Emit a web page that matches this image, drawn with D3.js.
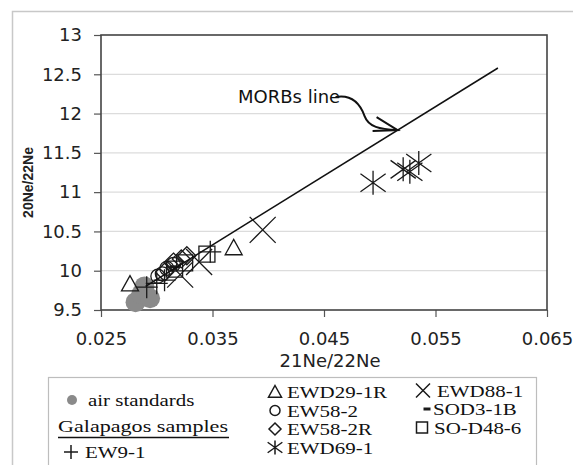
<!DOCTYPE html>
<html>
<head>
<meta charset="utf-8">
<script src="https://cdn.jsdelivr.net/npm/d3@7"></script>
<style>
  body { margin: 0; background: #fff; }
  svg { display: block; }
</style>
</head>
<body>
<div id="chart"></div>
<script>
// axis ticks
const xTicks = [0.025, 0.035, 0.045, 0.055, 0.065];
const yTicks = [9.5, 10, 10.5, 11, 11.5, 12, 12.5, 13];

// series values [21Ne/22Ne, 20Ne/22Ne]
const airStandards = [[0.0281, 9.60], [0.0286, 9.70], [0.0289, 9.80], [0.0294, 9.65]];
const ew9_1 = [[0.0291, 9.79], [0.0300, 9.84], [0.0307, 9.88], [0.0348, 10.24]];
const ewd29_1R = [[0.0276, 9.83], [0.0369, 10.29]];
const ew58_2 = [[0.0301, 9.93], [0.0305, 9.96], [0.0309, 10.03], [0.0315, 10.08]];
const ew58_2R = [[0.0307, 9.98], [0.0315, 10.11], [0.0322, 10.15], [0.0327, 10.19]];
const ewd69_1 = [[0.0494, 11.12], [0.0521, 11.29], [0.0527, 11.26], [0.0535, 11.37]];
const ewd88_1 = [[0.0321, 9.95], [0.0338, 10.11], [0.0395, 10.52]];
const sod3_1B = [[0.0316, 10.05]];
const soD48_6 = [[0.0316, 10.02], [0.0325, 10.10], [0.0345, 10.21]];
const morbLine = [[0.029, 9.8], [0.0606, 12.58]];
const morbArrowTip = [0.0516, 11.79];

const series = [
  { name: "air standards", type: "dot", values: airStandards },
  { name: "EW9-1", type: "plus", values: ew9_1 },
  { name: "EWD29-1R", type: "triangle", values: ewd29_1R },
  { name: "EW58-2", type: "circle", values: ew58_2 },
  { name: "EW58-2R", type: "diamond", values: ew58_2R },
  { name: "EWD69-1", type: "star", values: ewd69_1 },
  { name: "EWD88-1", type: "x", values: ewd88_1 },
  { name: "SOD3-1B", type: "dash", values: sod3_1B },
  { name: "SO-D48-6", type: "square", values: soD48_6 }
];

const W = 573, H = 465;
const plotL = 101, plotR = 547, plotT = 35, plotB = 310;

const x = d3.scaleLinear().domain([0.025, 0.065]).range([plotL, plotR]);
const y = d3.scaleLinear().domain([9.5, 13]).range([plotB, plotT]);

const svg = d3.select("#chart").append("svg")
  .attr("width", W).attr("height", H);

// outer chart border
svg.append("rect")
  .attr("x", 12.5).attr("y", 11.5)
  .attr("width", 700).attr("height", 600)
  .attr("fill", "none").attr("stroke", "#c8c8c8").attr("stroke-width", 1.5);

// gridlines
svg.append("g").selectAll("line")
  .data(yTicks.slice(1, -1))
  .enter().append("line")
  .attr("x1", plotL).attr("x2", plotR)
  .attr("y1", d => y(d)).attr("y2", d => y(d))
  .attr("stroke", "#dcdcdc").attr("stroke-width", 1.2);

const tickFont = "'DejaVu Sans', sans-serif";

const yAxis = svg.append("g")
  .attr("transform", "translate(" + plotL + ",0)")
  .call(d3.axisLeft(y).tickValues(yTicks).tickSize(7).tickPadding(12).tickFormat(d => String(d)));
const xAxis = svg.append("g")
  .attr("transform", "translate(0," + plotB + ")")
  .call(d3.axisBottom(x).tickValues(xTicks).tickSize(7).tickPadding(15).tickFormat(d => String(d)));

[yAxis, xAxis].forEach(g => {
  g.select(".domain").remove();
  g.selectAll("line").attr("stroke", "#555").attr("stroke-width", 1.2);
  g.selectAll("text").attr("fill", "#222").style("font-family", tickFont).style("font-size", "18px");
});

// plot frame
svg.append("rect")
  .attr("x", plotL).attr("y", plotT)
  .attr("width", plotR - plotL).attr("height", plotB - plotT)
  .attr("fill", "none").attr("stroke", "#444").attr("stroke-width", 1.6);

// axis titles
svg.append("text")
  .attr("transform", "translate(33," + ((plotT + plotB) / 2 + 10) + ") rotate(-90)")
  .attr("text-anchor", "middle")
  .style("font-family", "'Liberation Sans', Arial, sans-serif")
  .style("font-weight", "bold").style("font-size", "14px")
  .attr("fill", "#222")
  .text("20Ne/22Ne");

svg.append("text")
  .attr("x", 330).attr("y", 367)
  .attr("text-anchor", "middle")
  .style("font-family", tickFont).style("font-size", "18px")
  .attr("fill", "#222")
  .text("21Ne/22Ne");

// marker shapes
function markerPath(type, s) {
  const p = d3.path();
  if (type === "plus") {
    p.moveTo(-s, 0); p.lineTo(s, 0);
    p.moveTo(0, -s); p.lineTo(0, s);
  } else if (type === "x") {
    p.moveTo(-s, -s); p.lineTo(s, s);
    p.moveTo(-s, s); p.lineTo(s, -s);
  } else if (type === "star") {
    p.moveTo(0, -s); p.lineTo(0, s);
    p.moveTo(-s * 1.05, -s * 0.75); p.lineTo(s * 1.05, s * 0.75);
    p.moveTo(-s * 1.05, s * 0.75); p.lineTo(s * 1.05, -s * 0.75);
  } else if (type === "triangle") {
    p.moveTo(0, -s); p.lineTo(s, s * 0.8); p.lineTo(-s, s * 0.8); p.closePath();
  } else if (type === "diamond") {
    p.moveTo(0, -s); p.lineTo(s, 0); p.lineTo(0, s); p.lineTo(-s, 0); p.closePath();
  } else if (type === "square") {
    p.rect(-s, -s, 2 * s, 2 * s);
  } else if (type === "circle" || type === "dot") {
    p.arc(0, 0, s, 0, 2 * Math.PI);
  } else if (type === "dash") {
    p.moveTo(-s, 0); p.lineTo(s, 0);
  }
  return p.toString();
}

const plotSize = { dot: 10, plus: 11, x: 13, star: 12, triangle: 8.5, diamond: 9, square: 8, circle: 7, dash: 5 };

function styleMarker(sel, type) {
  if (type === "dot") {
    sel.attr("fill", "#8a8a8a").attr("stroke", "none");
  } else {
    sel.attr("fill", "none").attr("stroke", "#1a1a1a")
      .attr("stroke-width", type === "dash" ? 3 : 1.3);
  }
}

// markers
series.forEach(s => {
  const sel = svg.append("g").selectAll("path")
    .data(s.values)
    .enter().append("path")
    .attr("transform", d => "translate(" + x(d[0]) + "," + y(d[1]) + ")")
    .attr("d", markerPath(s.type, plotSize[s.type]));
  styleMarker(sel, s.type);
});

// MORBs line
svg.append("path")
  .datum(morbLine)
  .attr("d", d3.line().x(d => x(d[0])).y(d => y(d[1])))
  .attr("fill", "none").attr("stroke", "#111").attr("stroke-width", 1.5);

// annotation
svg.append("text")
  .attr("x", 238).attr("y", 103)
  .style("font-family", tickFont).style("font-size", "18px")
  .attr("fill", "#111")
  .text("MORBs line");

const tx = x(morbArrowTip[0]), ty = y(morbArrowTip[1]);
svg.append("path")
  .attr("d", "M" + (tx - 62) + "," + (ty - 33) +
    " C" + (tx - 45) + "," + (ty - 36) + " " + (tx - 37) + "," + (ty - 25) + " " + (tx - 33) + "," + (ty - 14) +
    " S" + (tx - 18) + "," + (ty - 1) + " " + tx + "," + ty)
  .attr("fill", "none").attr("stroke", "#111").attr("stroke-width", 2);
svg.append("path")
  .attr("d", "M" + (tx - 21) + "," + (ty - 13) + " L" + tx + "," + ty + " L" + (tx - 25) + "," + (ty + 1))
  .attr("fill", "none").attr("stroke", "#111").attr("stroke-width", 2);

// legend
const legend = svg.append("g");
legend.append("rect")
  .attr("x", 48.5).attr("y", 377.5).attr("width", 488).attr("height", 100)
  .attr("fill", "#fff").attr("stroke", "#bdbdbd").attr("stroke-width", 1.2);

const serif = "'Liberation Serif', 'Times New Roman', serif";
const legendItems = [
  { type: "dot", name: "air standards", mx: 72, tx: 88, cy: 400 },
  { type: "plus", name: "EW9-1", mx: 71, tx: 85, cy: 452 },
  { type: "triangle", name: "EWD29-1R", mx: 275, tx: 287, cy: 392 },
  { type: "circle", name: "EW58-2", mx: 275, tx: 287, cy: 410.5 },
  { type: "diamond", name: "EW58-2R", mx: 275, tx: 287, cy: 429 },
  { type: "star", name: "EWD69-1", mx: 275, tx: 287, cy: 447.5 },
  { type: "x", name: "EWD88-1", mx: 423, tx: 437, cy: 390.5 },
  { type: "dash", name: "SOD3-1B", mx: 427, tx: 433, cy: 409 },
  { type: "square", name: "SO-D48-6", mx: 422, tx: 434, cy: 427.5 }
];
const legendSize = { dot: 5, plus: 7, x: 7, star: 7, triangle: 6.5, diamond: 6, square: 5.5, circle: 5, dash: 3.5 };

// legend type is drawn a little wide, like the original
function wideText(sel, stretch) {
  const w = sel.node().getComputedTextLength();
  sel.attr("textLength", w * stretch).attr("lengthAdjust", "spacingAndGlyphs");
}

legendItems.forEach(it => {
  const m = legend.append("path")
    .attr("transform", "translate(" + it.mx + "," + it.cy + ")")
    .attr("d", markerPath(it.type, legendSize[it.type]));
  styleMarker(m, it.type);
  if (it.type !== "dot") m.attr("stroke-width", it.type === "dash" ? 3 : 1.5);
  const t = legend.append("text")
    .attr("x", it.tx).attr("y", it.cy + 6)
    .style("font-family", serif).style("font-size", "16.5px")
    .attr("fill", "#111")
    .text(it.name);
  wideText(t, 1.27);
});

const gal = legend.append("text")
  .attr("x", 58).attr("y", 432)
  .style("font-family", serif).style("font-size", "16.5px")
  .attr("fill", "#111")
  .text("Galapagos samples");
gal.attr("textLength", 170).attr("lengthAdjust", "spacingAndGlyphs");
legend.append("line")
  .attr("x1", 58).attr("x2", 229).attr("y1", 437.5).attr("y2", 437.5)
  .attr("stroke", "#111").attr("stroke-width", 1.5);
</script>
</body>
</html>
